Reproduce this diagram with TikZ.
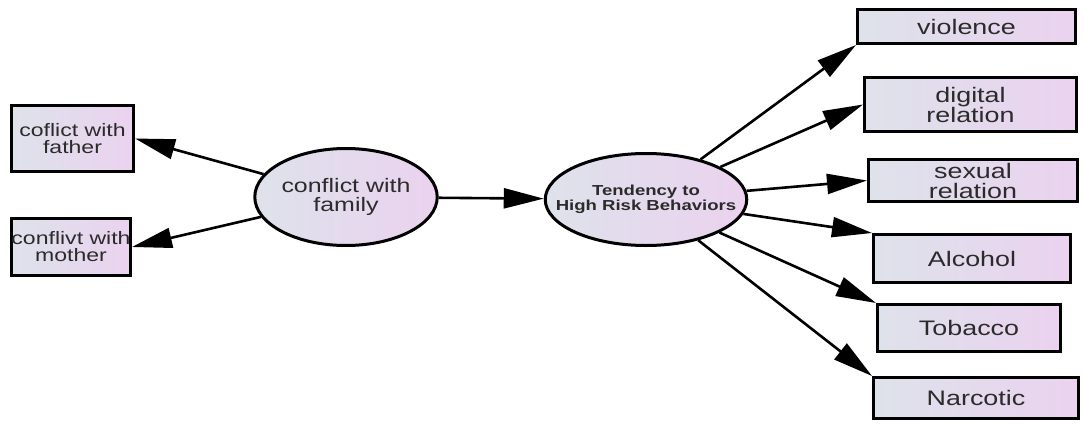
\documentclass[tikz,border=0pt]{standalone}
\usepackage{fontspec}
\setmainfont{Liberation Sans}
\newfontfamily\diagfont[FakeStretch=1.28]{Liberation Sans}
\usetikzlibrary{arrows.meta,positioning,shapes.geometric}
\definecolor{ink}{HTML}{2B2B2B}
\definecolor{fillleft}{HTML}{DEE2EB}
\definecolor{fillright}{HTML}{EBD2EF}
\tikzset{
  every node/.style={font=\diagfont, text=ink},
  obsbox/.style={draw=black, line width=3pt, left color=fillleft, right color=fillright, inner sep=0pt, align=center, font=\diagfont\fontsize{21}{20}\selectfont},
  smallbox/.style={obsbox, font=\diagfont\fontsize{18}{17}\selectfont},
  latent/.style={ellipse, draw=black, line width=3pt, left color=fillleft, right color=fillright, inner sep=0pt, align=center, font=\diagfont\fontsize{19.5}{19}\selectfont},
  arrow/.style={-{Triangle[length=40pt,width=20pt]}, line width=2.6pt, draw=black},
}
\begin{document}
\begin{tikzpicture}[x=1pt,y=-1pt]
\useasboundingbox (0,0) rectangle (1084,423);
% left side
\node[smallbox, minimum width=122pt, minimum height=66pt] (fath) at (72.5,138.5) {coflict with\\father};
\node[smallbox, minimum width=119pt, minimum height=57pt, below=44pt of fath, xshift=-1.5pt] (moth) {conflivt with\\mother};
\node[latent, minimum width=179pt, minimum height=97pt] (fam) at (346,197) {conflict with\\family};
\node[latent, inner xsep=-19pt, minimum width=199pt, minimum height=92pt, font=\diagfont\bfseries\fontsize{14.5}{15}\selectfont] (hrb) at (646,199.5) {Tendency to\\High Risk Behaviors};
% right column
\node[obsbox, minimum width=218pt, minimum height=34pt] (viol) at (966.5,26.5) {violence};
\node[obsbox, minimum width=212pt, minimum height=54pt, below=31pt of viol, xshift=4pt] (dig) {digital\\relation};
\node[obsbox, minimum width=209pt, minimum height=42pt, below=25pt of dig, xshift=2.5pt] (sex) {sexual\\relation};
\node[obsbox, minimum width=197pt, minimum height=48pt, below=30pt of sex, xshift=-1pt] (alc) {Alcohol};
\node[obsbox, minimum width=183pt, minimum height=47pt, below=19pt of alc, xshift=-3pt] (tob) {Tobacco};
\node[obsbox, minimum width=205pt, minimum height=41pt, below=23pt of tob, xshift=7pt] (narc) {Narcotic};
% connectors
\draw[arrow] (fam) -- (fath.east);
\draw[arrow] (fam) -- (moth.east);
\draw[arrow] (fam) -- (hrb);
\draw[arrow] (hrb) -- (viol.south west);
\draw[arrow] (hrb) -- (dig.west);
\draw[arrow] (hrb) -- (sex.west);
\draw[arrow] (hrb) -- (alc.north west);
\draw[arrow] (hrb) -- (tob.north west);
\draw[arrow] (hrb) -- (narc.north west);
\end{tikzpicture}
\end{document}
